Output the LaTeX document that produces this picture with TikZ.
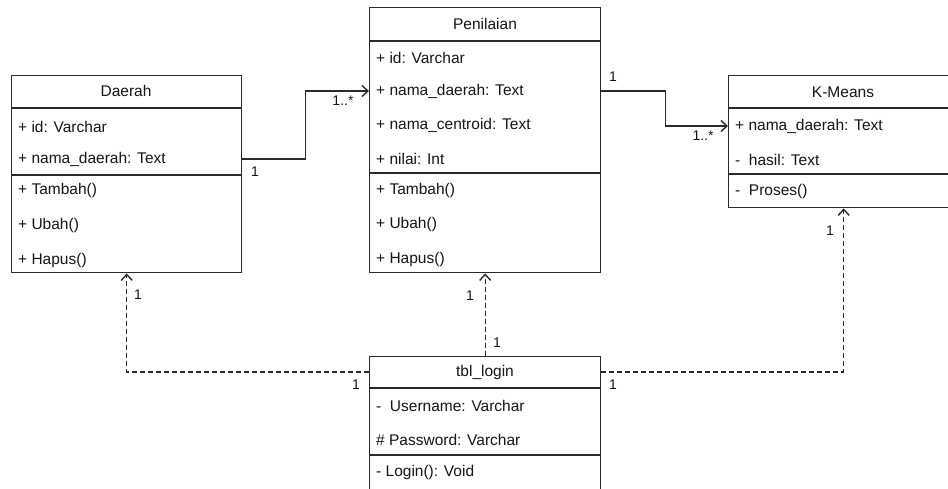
\documentclass[tikz,border=0pt]{standalone}
\usepackage{fontspec}
\setmainfont{Liberation Sans}
\usetikzlibrary{arrows.meta}
\definecolor{linec}{HTML}{2B2B2B}
\definecolor{txt}{HTML}{161616}
\tikzset{
  classbox/.style={draw=linec, line width=1.4pt, fill=white, anchor=north west, inner sep=0pt},
  sepline/.style={draw=linec, line width=1.4pt},
  ctitle/.style={font=\fontsize{15.5}{18}\selectfont, text=txt, inner sep=0pt},
  crow/.style={font=\fontsize{15.5}{18}\selectfont, text=txt, anchor=west, inner sep=0pt},
  mult/.style={font=\fontsize{14}{16}\selectfont, text=txt, inner sep=0pt},
  assoc/.style={draw=linec, line width=1.4pt, -{Straight Barb[length=6pt,width=11pt,line width=1.4pt]}},
  depend/.style={assoc, dash pattern=on 5pt off 3pt}
}
\begin{document}
\begin{tikzpicture}[x=1pt, y=-1pt]
\useasboundingbox (0,0) rectangle (948,488);
\clip (0,0) rectangle (948,488);
\fill[white] (0,0) rectangle (948,488);

% ---- Daerah ----
\node[classbox, minimum width=230pt, minimum height=197pt] (daerah) at (11,75) {};
\draw[sepline] ([yshift=-33pt]daerah.north west) -- ([yshift=-33pt]daerah.north east);
\draw[sepline] ([yshift=-100pt]daerah.north west) -- ([yshift=-100pt]daerah.north east);
\node[ctitle] (dtitle) at (126,91) {Daerah};
\node[crow] (did) at (18,127) {+ id: Varchar};
\node[crow] (dnama) at (18,159) {+ nama\_daerah: Text};
\node[crow] (dtambah) at (18,190) {+ Tambah()};
\node[crow] (dubah) at (18,225) {+ Ubah()};
\node[crow] (dhapus) at (18,260) {+ Hapus()};

% ---- Penilaian ----
\node[classbox, minimum width=231pt, minimum height=265pt] (penilaian) at (369,7) {};
\draw[sepline] ([yshift=-34pt]penilaian.north west) -- ([yshift=-34pt]penilaian.north east);
\draw[sepline] ([yshift=-166pt]penilaian.north west) -- ([yshift=-166pt]penilaian.north east);
\node[ctitle] (ptitle) at (485,24) {Penilaian};
\node[crow] (pid) at (376,58) {+ id: Varchar};
\node[crow] (pnama) at (376,91) {+ nama\_daerah: Text};
\node[crow] (pcentroid) at (376,125) {+ nama\_centroid: Text};
\node[crow] (pnilai) at (376,159) {+ nilai: Int};
\node[crow] (ptambah) at (376,190) {+ Tambah()};
\node[crow] (pubah) at (376,224) {+ Ubah()};
\node[crow] (phapus) at (376,259) {+ Hapus()};

% ---- K-Means ----
\node[classbox, minimum width=230pt, minimum height=132pt] (kmeans) at (728,75) {};
\draw[sepline] ([yshift=-33pt]kmeans.north west) -- ([yshift=-33pt]kmeans.north east);
\draw[sepline] ([yshift=-99pt]kmeans.north west) -- ([yshift=-99pt]kmeans.north east);
\node[ctitle] (ktitle) at (843,92) {K-Means};
\node[crow] (knama) at (735,126) {+ nama\_daerah: Text};
\node[crow] (khasil) at (735,160) {-~~hasil: Text};
\node[crow] (kproses) at (735,191) {-~~Proses()};

% ---- tbl_login ----
\node[classbox, minimum width=231pt, minimum height=135pt] (login) at (369,356) {};
\draw[sepline] ([yshift=-32pt]login.north west) -- ([yshift=-32pt]login.north east);
\draw[sepline] ([yshift=-99pt]login.north west) -- ([yshift=-99pt]login.north east);
\node[ctitle] (ltitle) at (485,372) {tbl\_login};
\node[crow] (luser) at (376,406) {-~~Username: Varchar};
\node[crow] (lpass) at (376,440) {\# Password: Varchar};
\node[crow] (llogin) at (376,472) {- Login(): Void};

% ---- associations ----
\draw[assoc] (dnama.east -| daerah.east) -- ++(63,0) |- (pnama.west -| penilaian.west);
\draw[assoc] (pnama.east -| penilaian.east) -- ++(64,0) |- (knama.west -| kmeans.west);

% ---- dependencies from tbl_login ----
\draw[depend] (ltitle.west -| login.west) -| (daerah.south);
\draw[depend] (login.north) -- (penilaian.south);
\draw[depend] (ltitle.east -| login.east) -| (kmeans.south);

% ---- multiplicities ----
\node[mult] (m1) at (255,172) {1};
\node[mult] (m2) at (343,101) {1..*};
\node[mult] (m3) at (613,77) {1};
\node[mult] (m4) at (703,136) {1..*};
\node[mult] (m5) at (138,295) {1};
\node[mult] (m6) at (356,385) {1};
\node[mult] (m7) at (470,296) {1};
\node[mult] (m8) at (497,343) {1};
\node[mult] (m9) at (613,385) {1};
\node[mult] (m10) at (830,231) {1};
\end{tikzpicture}
\end{document}
